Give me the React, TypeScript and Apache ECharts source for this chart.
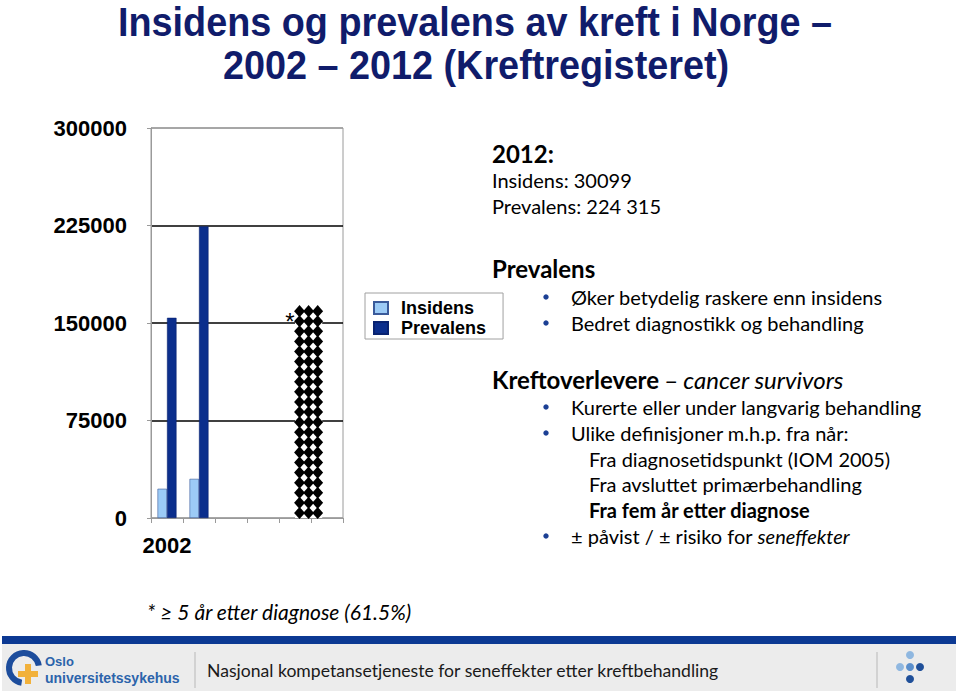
import React, { useEffect, useRef } from "react";
import * as echarts from "echarts";

// ---- data ----
const categories = ["2002", "", "", "", "", ""];
const insidens = [22500, 30099, null, null, null, null];
const prevalens = [154000, 224315, null, null, null, null];
const survivorIndex = 4;
const survivors = 163000;
const yTicks = { min: 0, max: 300000, interval: 75000 };

const NAVY = "#0b2e8c";
const LIGHT = "#9ccbf6";
const TITLE = "#101c6b";
const BODY = "Lato, 'Open Sans', sans-serif";
const ARIAL = "'Liberation Sans', Arial, sans-serif";
const FS = 20;

function txt(x: number, y: number, text: string, style: any = {}, extra: any = {}) {
  return {
    type: "text",
    x,
    y,
    silent: true,
    ...extra,
    style: {
      text,
      fill: "#000",
      font: `${FS}px ${BODY}`,
      verticalAlign: "middle",
      ...style,
    },
  };
}

function bullet(y: number) {
  return { type: "circle", shape: { cx: 546, cy: y, r: 2.7 }, style: { fill: "#1b3f94" }, silent: true };
}

export default function App() {
  const ref = useRef<HTMLDivElement>(null);
  useEffect(() => {
    if (!ref.current) return;
    const chart = echarts.init(ref.current, null, { renderer: "svg" });
    const graphic: any[] = [
      // title
      txt(475, 22, "Insidens og prevalens av kreft i Norge –", { font: `bold 40px ${ARIAL}`, fill: TITLE, align: "center" }, { scaleX: 0.945 }),
      txt(476, 65, "2002 – 2012 (Kreftregisteret)", { font: `bold 40px ${ARIAL}`, fill: TITLE, align: "center" }, { scaleX: 0.945 }),
      // right text
      txt(492, 153, "2012:", { font: `bold 24px ${BODY}` }),
      txt(492, 180, "Insidens: 30099", {}),
      txt(492, 206, "Prevalens: 224 315", {}),
      txt(492, 268, "Prevalens", { font: `bold 24px ${BODY}` }),
      bullet(297),
      txt(571, 297, "Øker betydelig raskere enn insidens"),
      bullet(323),
      txt(571, 323, "Bedret diagnostikk og behandling"),
      txt(492, 379, "{b|Kreftoverlevere} {n|–} {i|cancer survivors}", {
        rich: {
          b: { font: `bold 24px ${BODY}`, fill: "#000" },
          n: { font: `24px ${BODY}`, fill: "#000" },
          i: { font: `italic 24px ${BODY}`, fill: "#000" },
        },
      }),
      bullet(407),
      txt(571, 407, "Kurerte eller under langvarig behandling"),
      bullet(433),
      txt(571, 433, "Ulike definisjoner m.h.p. fra når:"),
      txt(589, 459, "Fra diagnosetidspunkt (IOM 2005)"),
      txt(589, 484, "Fra avsluttet primærbehandling"),
      txt(589, 510, "Fra fem år etter diagnose", { font: `bold ${FS}px ${BODY}` }),
      bullet(536),
      txt(571, 536, "{n|± påvist / ± risiko for }{i|seneffekter}", {
        rich: {
          n: { font: `${FS}px ${BODY}`, fill: "#000" },
          i: { font: `italic ${FS}px ${BODY}`, fill: "#000" },
        },
      }),
      // footnote
      txt(147, 611, "* ≥ 5 år etter diagnose (61.5%)", { font: `italic 21px ${BODY}` }),
      // footer
      { type: "rect", shape: { x: 2, y: 636, width: 954, height: 8 }, style: { fill: "#0c3993" }, silent: true },
      { type: "rect", shape: { x: 2, y: 644, width: 954, height: 47 }, style: { fill: "#ececec" }, silent: true },
      { type: "line", shape: { x1: 195, y1: 652, x2: 195, y2: 688 }, style: { stroke: "#b8b8b8", lineWidth: 1 }, silent: true },
      { type: "line", shape: { x1: 877, y1: 652, x2: 877, y2: 688 }, style: { stroke: "#b8b8b8", lineWidth: 1 }, silent: true },
      txt(207, 670, "Nasjonal kompetansetjeneste for seneffekter etter kreftbehandling", { font: `17.6px ${BODY}`, fill: "#1a1a1a" }),
      // OUS logo
      { type: "arc", shape: { cx: 24, cy: 668, r: 15, startAngle: Math.PI * 0.55, endAngle: Math.PI * 1.95, clockwise: true }, style: { stroke: "#1d4d9c", lineWidth: 6, fill: "none" }, silent: true },
      { type: "rect", shape: { x: 25, y: 664, width: 6, height: 20 }, style: { fill: "#f2b13a" }, silent: true },
      { type: "rect", shape: { x: 18, y: 671, width: 20, height: 6 }, style: { fill: "#f2b13a" }, silent: true },
      txt(45, 661, "Oslo", { font: `bold 13px ${ARIAL}`, fill: "#2c64ab" }),
      txt(45, 678, "universitetssykehus", { font: `bold 14px ${ARIAL}`, fill: "#2c64ab" }),
      // right logo dots
      { type: "circle", shape: { cx: 910, cy: 655, r: 4 }, style: { fill: "#8fb7e0" }, silent: true },
      { type: "circle", shape: { cx: 900, cy: 667, r: 4 }, style: { fill: "#8fb7e0" }, silent: true },
      { type: "circle", shape: { cx: 910, cy: 667, r: 4 }, style: { fill: "#5b8fcc" }, silent: true },
      { type: "circle", shape: { cx: 920, cy: 667, r: 4 }, style: { fill: "#1f4f99" }, silent: true },
      { type: "circle", shape: { cx: 910, cy: 679, r: 4 }, style: { fill: "#1f4f99" }, silent: true },
    ];

    const option: any = {
      animation: false,
      backgroundColor: "#fff",
      grid: { left: 151, top: 128, width: 192, height: 390, show: true, borderColor: "#9a9a9a", borderWidth: 1 },
      legend: {
        left: 365,
        top: 293,
        orient: "vertical",
        data: ["Insidens", "Prevalens"],
        icon: "rect",
        itemWidth: 14,
        itemHeight: 12,
        itemGap: 2,
        padding: [6, 17, 2, 8],
        borderColor: "#a0a0a0",
        borderWidth: 1,
        textStyle: { fontWeight: "bold", fontSize: 18, fontFamily: ARIAL, color: "#000", lineHeight: 18, padding: [0, 0, 0, 8] },
      },
      xAxis: {
        type: "category",
        data: categories,
        axisLine: { lineStyle: { color: "#9a9a9a", width: 1 } },
        axisTick: { show: true, length: 5, interval: 0, lineStyle: { color: "#9a9a9a" } },
        axisLabel: { margin: 16, color: "#000", fontSize: 22, fontWeight: "bold", fontFamily: ARIAL, interval: 0 },
      },
      yAxis: {
        type: "value",
        min: yTicks.min,
        max: yTicks.max,
        interval: yTicks.interval,
        axisLine: { show: true, lineStyle: { color: "#9a9a9a" } },
        axisTick: { show: true, length: 4, lineStyle: { color: "#9a9a9a" } },
        axisLabel: { margin: 24, color: "#000", fontSize: 22, fontWeight: "bold", fontFamily: ARIAL, formatter: (v: number) => String(v) },
        splitLine: { show: true, lineStyle: { color: ["#9a9a9a", "#000", "#000", "#000", "#9a9a9a"], width: 1.5 } },
      },
      series: [
        {
          name: "Insidens",
          type: "bar",
          data: insidens,
          barWidth: 9.5,
          barGap: "0%",
          itemStyle: { color: LIGHT, borderColor: "#3a5a9a", borderWidth: 0.6 },
        },
        {
          name: "Prevalens",
          type: "bar",
          data: prevalens,
          barWidth: 9.5,
          itemStyle: { color: NAVY, borderColor: "#082270", borderWidth: 0.6 },
        },
        {
          name: "survivors",
          type: "custom",
          data: [[survivorIndex, survivors]],
          encode: { x: 0, y: 1 },
          renderItem: (params: any, api: any) => {
            const base = api.coord([api.value(0), 0]);
            const top = api.coord([api.value(0), api.value(1)]);
            const w = api.size([1, 0])[0] * 0.85;
            const x0 = base[0];
            const h = base[1] - top[1];
            const cols = 3;
            const cw = w / cols;
            const ch = 10;
            const rows = Math.round(h / ch);
            const rh = h / rows;
            const children: any[] = [
              { type: "rect", shape: { x: x0, y: top[1], width: w, height: h }, style: { fill: "#fff" } },
            ];
            for (let r = 0; r < rows; r++) {
              for (let c = 0; c < cols; c++) {
                const cx = x0 + cw * (c + 0.5);
                const cy = top[1] + rh * (r + 0.5);
                const dx = cw * 0.6;
                const dy = rh * 0.6;
                children.push({
                  type: "polygon",
                  shape: { points: [[cx, cy - dy], [cx + dx, cy], [cx, cy + dy], [cx - dx, cy]] },
                  style: { fill: "#000" },
                });
              }
            }
            children.push({
              type: "text",
              x: x0 - 5,
              y: top[1] + 15,
              style: { text: "*", font: `24px ${ARIAL}`, fill: "#000", align: "center", verticalAlign: "middle" },
            });
            return { type: "group", children };
          },
          z: 3,
        },
      ],
      graphic,
    };
    chart.setOption(option);
    return () => chart.dispose();
  }, []);
  return <div ref={ref} style={{ position: "fixed", left: 0, top: 0, width: 960, height: 691, background: "#fff" }} />;
}
